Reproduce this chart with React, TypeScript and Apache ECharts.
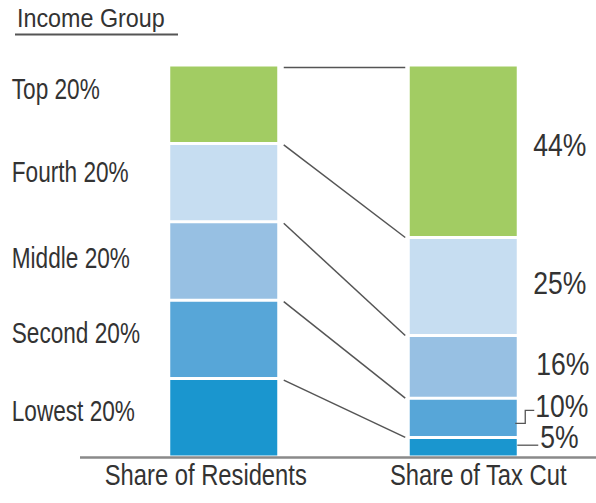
import React, { useEffect, useRef } from "react";
import * as echarts from "echarts";

const groups = ["Lowest 20%", "Second 20%", "Middle 20%", "Fourth 20%", "Top 20%"];
const residentsShare = [20, 20, 20, 20, 20];
const taxCutShare = [5, 10, 16, 25, 44];
const categories = ["Share of Residents", "Share of Tax Cut"];
const titleText = "Income Group";

const COLORS = ["#1a96cf", "#57a6d8", "#97c0e3", "#c6ddf1", "#a2cc63"];
const FONT = "'Liberation Sans', Arial, sans-serif";
const TEXT = "#333333";
const BAR_W = 110;
// layout tweaks (label offsets relative to segment centres)
const LEFT_LABEL_DY = [-7, -6, -3, -11, -15.5];
const RIGHT_LABEL_DX = [22, 17, 18, 15, 15];
const RIGHT_LABEL_DY = [-9.5, -11, -2.5, -3, -5.5];
const XLABEL_DX = [-18, 15];

function cum(arr: number[]) {
  const out: number[] = [];
  let s = 0;
  for (const v of arr) {
    s += v;
    out.push(s);
  }
  return out;
}

function txt(text: string, x: number, y: number, size: number, scaleX: number, align: string) {
  return {
    type: "text",
    x,
    y,
    scaleX,
    silent: true,
    style: {
      text,
      fontFamily: FONT,
      fontSize: size,
      fill: TEXT,
      align,
      verticalAlign: "middle",
      textAlign: align,
      textVerticalAlign: "middle",
    },
  };
}

export default function App() {
  const ref = useRef<HTMLDivElement>(null);
  useEffect(() => {
    if (!ref.current) return;
    const chart = echarts.init(ref.current, null, { renderer: "svg" });
    const leftCum = cum(residentsShare);
    const rightCum = cum(taxCutShare);

    const barSeries = groups.map((g, i) => ({
      type: "bar",
      name: g,
      stack: "total",
      barWidth: BAR_W,
      itemStyle: { color: COLORS[i], borderColor: "#ffffff", borderWidth: 1.5 },
      emphasis: { disabled: true },
      data: [residentsShare[i], taxCutShare[i]],
    }));

    const connectorSeries = {
      type: "custom",
      silent: true,
      z: 5,
      encode: { x: 0, y: 1 },
      data: leftCum.map((l, i) => [0, l, rightCum[i]]),
      renderItem: (params: any, api: any) => {
        const l = api.coord([0, api.value(1)]);
        const r = api.coord([1, api.value(2)]);
        const top = api.value(1) >= 100 && api.value(2) >= 100;
        const x1 = l[0] + BAR_W / 2 + 5;
        const x2 = r[0] - BAR_W / 2 - 3;
        const dy = top ? 2.5 : 1.5;
        return {
          type: "line",
          shape: { x1, y1: l[1] + dy, x2, y2: r[1] + (top ? dy : 0) },
          style: { stroke: "#555555", lineWidth: 1.5 },
        };
      },
    };

    const leaderSeries = {
      type: "custom",
      silent: true,
      z: 5,
      encode: { x: 0, y: 1 },
      data: [
        [1, 0, rightCum[0]],
        [1, rightCum[0], rightCum[1]],
      ],
      renderItem: (params: any, api: any) => {
        const a = api.coord([1, api.value(1)]);
        const b = api.coord([1, api.value(2)]);
        const cy = (a[1] + b[1]) / 2;
        const right = a[0] + BAR_W / 2;
        if (params.dataIndex === 0) {
          return {
            type: "polyline",
            shape: { points: [[right - 1, cy - 2], [right + 20, cy - 2]] },
            style: { stroke: "#555555", lineWidth: 1.3, fill: null },
          };
        }
        return {
          type: "polyline",
          shape: {
            points: [
              [right - 3, cy + 5.5],
              [right + 7, cy + 5.5],
              [right + 7, cy - 7.5],
              [right + 16, cy - 7.5],
            ],
          },
          style: { stroke: "#555555", lineWidth: 1.3, fill: null },
        };
      },
    };

    chart.setOption({
      animation: false,
      grid: { left: 104, right: 13, top: 65, bottom: 46, containLabel: false },
      xAxis: {
        type: "category",
        data: categories,
        axisLine: { show: false },
        axisTick: { show: false },
        axisLabel: { show: false },
      },
      yAxis: { type: "value", min: 0, max: 100, show: false },
      series: [...barSeries, connectorSeries, leaderSeries],
    });

    const pt = (ci: number, v: number) =>
      chart.convertToPixel({ gridIndex: 0 }, [categories[ci], v]) as number[];

    const graphics: any[] = [];
    graphics.push(txt(titleText, 17, 17.5, 26.5, 0.88, "left"));
    graphics.push({
      type: "line",
      silent: true,
      shape: { x1: 15, y1: 34.5, x2: 178, y2: 34.5 },
      style: { stroke: "#555555", lineWidth: 2 },
    });
    const base = pt(0, 0);
    graphics.push({
      type: "line",
      silent: true,
      z: 10,
      shape: { x1: 80, y1: base[1] + 0.5, x2: 596, y2: base[1] + 0.5 },
      style: { stroke: "#8a8a8a", lineWidth: 2.5 },
    });

    groups.forEach((g, i) => {
      const p = pt(0, leftCum[i] - residentsShare[i] / 2);
      const x = p[0] - BAR_W / 2 - 157;
      graphics.push(txt(g, x, p[1] + LEFT_LABEL_DY[i], 29, 0.78, "left"));
    });
    taxCutShare.forEach((v, i) => {
      const p = pt(1, rightCum[i] - v / 2);
      const x = p[0] + BAR_W / 2 + RIGHT_LABEL_DX[i];
      graphics.push(txt(v + "%", x, p[1] + RIGHT_LABEL_DY[i], 30.5, 0.87, "left"));
    });
    categories.forEach((c, i) => {
      const p = pt(i, 0);
      graphics.push(txt(c, p[0] + XLABEL_DX[i], p[1] + 18, 28.8, 0.825, "center"));
    });

    chart.setOption({ graphic: graphics });
    return () => chart.dispose();
  }, []);
  return <div ref={ref} style={{ width: 596, height: 503, position: "absolute", left: 0, top: 0 }} />;
}
